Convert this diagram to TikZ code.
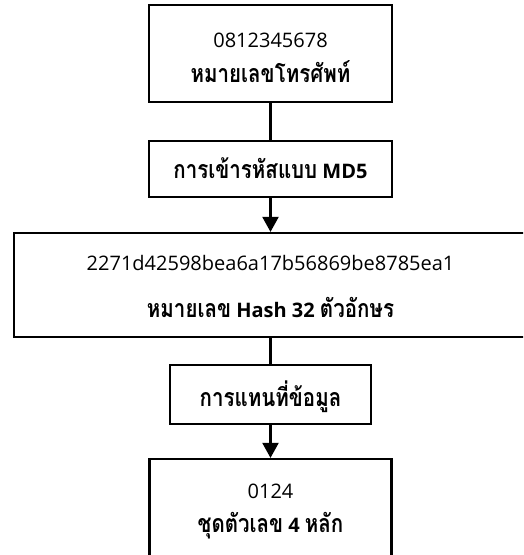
\documentclass[tikz,border=0pt]{standalone}
\usepackage{fontspec}
\setmainfont{Open Sans}
\newfontfamily\thai[Script=Thai,Scale=1.25,FakeStretch=0.82]{Loma}
\usetikzlibrary{arrows.meta}
\begin{document}
\begin{tikzpicture}[x=1pt,y=-1pt,
  box/.style={draw=black,line width=2.2pt,rectangle,inner sep=0pt},
  lbl/.style={inner sep=0pt,anchor=base,font=\fontsize{20}{24}\selectfont},
  blbl/.style={lbl,font=\fontsize{20}{24}\selectfont\bfseries},
  conn/.style={line width=2.2pt},
  arr/.style={conn,-{Triangle[width=16pt,length=15pt]}}]
\useasboundingbox (0,0) rectangle (523,555);
\clip (0,0) rectangle (523,555);
\node[box,minimum width=243pt,minimum height=97pt] (b1) at (270.5,53.5) {};
\node[box,minimum width=243pt,minimum height=56pt] (b2) at (270.5,169) {};
\node[box,minimum width=513pt,minimum height=104pt] (b3) at (270.5,285) {};
\node[box,minimum width=201pt,minimum height=59pt] (b4) at (270.5,394.5) {};
\node[box,minimum width=242pt,minimum height=111pt] (b5) at (270.5,514.5) {};
\node[lbl] (t1a) at (270.5,47) {0812345678};
\node[blbl] (t1b) at (270.5,82) {\thai หมายเลขโทรศัพท์};
\node[blbl] (t2) at (270.5,178) {{\thai การเข้ารหัสแบบ} MD5};
\node[lbl] (t3a) at (270.5,270) {2271d42598bea6a17b56869be8785ea1};
\node[blbl] (t3b) at (270.5,317) {{\thai หมายเลข} Hash 32 {\thai ตัวอักษร}};
\node[blbl] (t4) at (270.5,406) {\thai การแทนที่ข้อมูล};
\node[lbl] (t5a) at (270.5,498) {0124};
\node[blbl] (t5b) at (270.5,532) {{\thai ชุดตัวเลข} 4 {\thai หลัก}};
\draw[conn] (b1.south) -- (b2.north);
\draw[arr] (b2.south) -- (b3.north);
\draw[conn] (b3.south) -- (b4.north);
\draw[arr] (b4.south) -- (b5.north);
\end{tikzpicture}
\end{document}
